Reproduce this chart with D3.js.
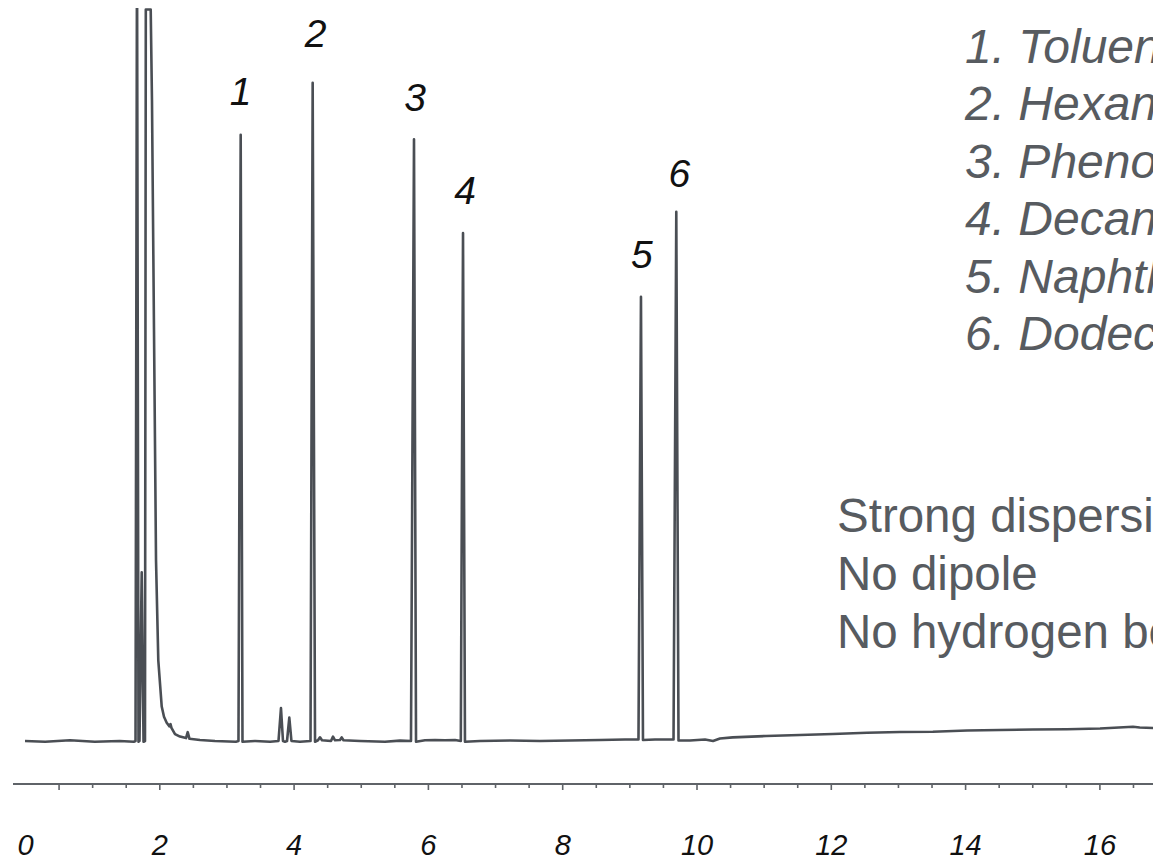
<!DOCTYPE html>
<html>
<head>
<meta charset="utf-8">
<script src="https://cdn.jsdelivr.net/npm/d3@7"></script>
<style>
  html, body { margin: 0; padding: 0; background: #fff; }
  svg { display: block; }
  text { font-family: "Liberation Sans", Arial, sans-serif; }
</style>
</head>
<body>
<svg width="1153" height="858"></svg>
<script>
// Trace: retention time (min) and detector signal
const traceTime = [
  0.00, 0.30, 0.67, 1.04, 1.41, 1.62, 1.646, 1.668, 1.690, 1.705, 1.738, 1.765,
  1.787, 1.799, 1.872, 1.891, 1.921, 1.951, 1.985, 2.036, 2.070, 2.110, 2.152,
  2.167, 2.181, 2.234, 2.308, 2.398, 2.423, 2.450, 2.606, 2.83, 3.14, 3.179,
  3.212, 3.239, 3.425, 3.65, 3.775, 3.812, 3.842, 3.872, 3.902, 3.936, 3.968,
  4.095, 4.252, 4.284, 4.319, 4.363, 4.393, 4.423, 4.557, 4.587, 4.617, 4.691,
  4.716, 4.743, 4.989, 5.36, 5.584, 5.748, 5.793, 5.823, 5.957, 6.106, 6.255,
  6.404, 6.49, 6.523, 6.552, 6.776, 7.223, 7.669, 8.116, 8.563, 8.935, 9.136,
  9.173, 9.203, 9.382, 9.658, 9.699, 9.732, 9.903, 10.127, 10.246, 10.35, 10.54,
  11.035, 11.54, 12.03, 12.54, 13.03, 13.52, 14.03, 14.52, 15.01, 15.52, 16.01,
  16.5, 16.6, 16.8
]
const traceSignal = [
  0, -1, 1, -1, 0, -1, 0, 1100, -1, 0, 230, -1,
  0, 998, 998, 874, 561, 247, 110, 47, 33, 25, 20,
  23, 18, 9.5, 6, 4, 12, 3, 1.4, 0, -1, 0,
  827, -1, 0, -1, 0, 45, 0, -1, 0, 32, 0,
  -1, 0, 898, -1, 1, 5, 1, 0, 6, 1, 1.4,
  5, 1, 0, -1, 0.5, 0, 821, -1, 1, 1.4, 1,
  1.4, 0, 693, -1, 0, 0.7, 0, 0.7, 1.4, 2, 2,
  606, 1.4, 2, 2, 722, 0.7, 0.7, 2, 0, 3.4, 5,
  6.8, 8.2, 9.5, 11.3, 12.3, 12.7, 14.3, 15, 15.7, 16, 17,
  19.5, 18.4, 17.7
]

// Numbered peaks
const peakNumbers = ['1', '2', '3', '4', '5', '6']
const peakTimes = [3.212, 4.284, 5.793, 6.523, 9.173, 9.699]
const peakHeights = [827, 898, 821, 693, 606, 722]

const compounds = ['1. Toluene', '2. Hexanol', '3. Phenol', '4. Decane', '5. Naphthalene', '6. Dodecane']
const properties = ['Strong dispersion', 'No dipole', 'No hydrogen bonding']

const majorTicks = [0, 2, 4, 6, 8, 10, 12, 14, 16]
const minorTicks = [0.5, 1, 1.5, 2.5, 3, 3.5, 4.5, 5, 5.5, 6.5, 7, 7.5, 8.5, 9, 9.5,
  10.5, 11, 11.5, 12.5, 13, 13.5, 14.5, 15, 15.5, 16.5]

const svg = d3.select('svg')
const W = 1153
const ink = '#4a4e54'
const textGray = '#575b60'

// Scales
const x = d3.scaleLinear().domain([0, 17]).range([25, 25 + 17 * 67.15])
const y = d3.scaleLinear().domain([0, 1000]).range([741, 8])
const axisY = 784

svg.append('clipPath').attr('id', 'plot')
  .append('rect').attr('x', 0).attr('y', 8).attr('width', W).attr('height', 760)

// Chromatogram trace
const trace = traceTime.map((t, i) => [t, traceSignal[i]])
svg.append('path')
  .datum(trace)
  .attr('clip-path', 'url(#plot)')
  .attr('fill', 'none')
  .attr('stroke', ink)
  .attr('stroke-width', 2.6)
  .attr('stroke-linejoin', 'round')
  .attr('d', d3.line().x(d => x(d[0])).y(d => y(d[1])))

// Peak numbers
const labelNudge = [[0, -30], [3, -36], [1, -28], [2, -29], [1, -29], [3, -25]]
svg.selectAll('.peak-label')
  .data(peakNumbers)
  .enter()
  .append('text')
    .attr('class', 'peak-label')
    .attr('x', (d, i) => x(peakTimes[i]) + labelNudge[i][0])
    .attr('y', (d, i) => y(peakHeights[i]) + labelNudge[i][1])
    .attr('text-anchor', 'middle')
    .attr('font-size', 39)
    .attr('font-style', 'italic')
    .attr('fill', '#111')
    .text(d => d)

// Time axis
svg.append('line')
  .attr('x1', 13).attr('x2', W)
  .attr('y1', axisY).attr('y2', axisY)
  .attr('stroke', '#5f6368').attr('stroke-width', 2)

const minorAxis = svg.append('g')
  .attr('transform', 'translate(0,' + axisY + ')')
  .call(d3.axisBottom(x).tickValues(minorTicks).tickSize(4).tickFormat(''))
minorAxis.select('.domain').remove()
minorAxis.selectAll('line').attr('stroke', '#5f6368').attr('stroke-width', 1.6)
minorAxis.selectAll('.tick').filter(d => d === 0.5).select('line').attr('y2', 6)

const majorAxis = svg.append('g')
  .attr('transform', 'translate(0,' + axisY + ')')
  .call(d3.axisBottom(x).tickValues(majorTicks).tickSize(6).tickPadding(44).tickFormat(d3.format('d')))
majorAxis.select('.domain').remove()
majorAxis.selectAll('line').attr('stroke', '#5f6368').attr('stroke-width', 1.6)
majorAxis.selectAll('.tick').filter(d => d === 0).select('line').remove()
majorAxis.selectAll('text')
  .attr('font-family', '"Liberation Sans", Arial, sans-serif')
  .attr('font-size', 29)
  .attr('font-style', 'italic')
  .attr('fill', '#111')

// Compound list
svg.selectAll('.compound')
  .data(compounds)
  .enter()
  .append('text')
    .attr('class', 'compound')
    .attr('x', 965)
    .attr('y', (d, i) => 63 + i * 57.4)
    .attr('font-size', 48)
    .attr('font-style', 'italic')
    .attr('fill', textGray)
    .text(d => d)

// Phase properties
svg.selectAll('.property')
  .data(properties)
  .enter()
  .append('text')
    .attr('class', 'property')
    .attr('x', 837)
    .attr('y', (d, i) => 532 + i * 58)
    .attr('font-size', 47.5)
    .attr('fill', textGray)
    .text(d => d)
</script>
</body>
</html>
